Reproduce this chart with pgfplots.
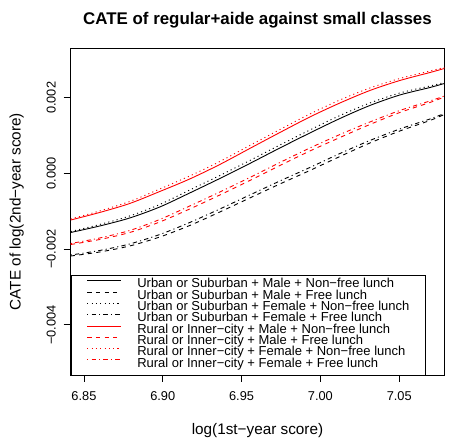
\documentclass[border=0pt]{standalone}
\usepackage{fontspec}
\setmainfont{Liberation Sans}
\usepackage{pgfplots}
\usepackage{pgfplotstable}
\pgfplotsset{compat=1.18}

% CATE of regular+aide vs. small classes, by subgroup.
% Columns: m/f = male/female, n/f = non-free/free lunch.
\pgfplotstableread{
x       mn         mf         fn         ff
6.8416  -0.001559  -0.002180  -0.001533  -0.002154
6.8600  -0.001387  -0.002074  -0.001347  -0.002034
6.8790  -0.001176  -0.001915  -0.001123  -0.001862
6.8981  -0.000885  -0.001678  -0.000819  -0.001612
6.9171  -0.000515  -0.001374  -0.000436  -0.001295
6.9362  -0.000132  -0.001017  -0.000053  -0.000938
6.9552   0.000264  -0.000647   0.000343  -0.000568
6.9743   0.000674  -0.000277   0.000753  -0.000198
6.9933   0.001070   0.000079   0.001149   0.000158
7.0124   0.001453   0.000449   0.001532   0.000528
7.0314   0.001797   0.000806   0.001863   0.000872
7.0504   0.002074   0.001123   0.002127   0.001176
7.0695   0.002272   0.001400   0.002312   0.001440
7.0786   0.002378   0.001559   0.002404   0.001585
}\urbantable

\pgfplotstableread{
x       mn         mf         fn         ff
6.8416  -0.001229  -0.001876  -0.001203  -0.001850
6.8600  -0.001030  -0.001744  -0.000990  -0.001704
6.8790  -0.000793  -0.001559  -0.000740  -0.001506
6.8981  -0.000476  -0.001281  -0.000410  -0.001215
6.9171  -0.000145  -0.000938  -0.000066  -0.000859
6.9362   0.000238  -0.000568   0.000317  -0.000489
6.9552   0.000661  -0.000185   0.000740  -0.000106
6.9743   0.001083   0.000211   0.001162   0.000290
6.9933   0.001493   0.000594   0.001572   0.000673
7.0124   0.001863   0.000951   0.001942   0.001030
7.0314   0.002193   0.001295   0.002259   0.001361
7.0504   0.002457   0.001612   0.002510   0.001665
7.0695   0.002668   0.001876   0.002708   0.001916
7.0786   0.002774   0.002021   0.002800   0.002047
}\ruraltable

\tikzset{
  urbmn/.style={draw=black, line width=0.9pt},
  urbmf/.style={draw=black, line width=0.9pt, dash pattern=on 4.3pt off 4.3pt},
  urbfn/.style={draw=black, line width=0.9pt, dash pattern=on 1.1pt off 3.2pt},
  urbff/.style={draw=black, line width=0.9pt, dash pattern=on 1.1pt off 3.2pt on 4.3pt off 3.2pt},
  rurmn/.style={draw=red, line width=0.9pt},
  rurmf/.style={draw=red, line width=0.9pt, dash pattern=on 4.3pt off 4.3pt},
  rurfn/.style={draw=red, line width=0.9pt, dash pattern=on 1.1pt off 3.2pt},
  rurff/.style={draw=red, line width=0.9pt, dash pattern=on 1.1pt off 3.2pt on 4.3pt off 3.2pt},
}

\begin{document}
\begin{tikzpicture}
\useasboundingbox (-70.7pt,-63pt) rectangle (390.3pt,375pt);
\begin{axis}[
  at={(0pt,0pt)}, anchor=south west,
  scale only axis, width=373.6pt, height=326.7pt,
  xmin=6.8416, xmax=7.0786, ymin=-0.005324, ymax=0.003308,
  xtick={6.85,6.90,6.95,7.00,7.05},
  xticklabels={6.85,6.90,6.95,7.00,7.05},
  ytick={-0.004,-0.002,0,0.002},
  yticklabels={−0.004,−0.002,0.000,0.002},
  scaled ticks=false,
  /pgf/number format/assume math mode=true,
  tick pos=left, tick align=outside,
  major tick length=7pt,
  tick style={black, line width=0.8pt},
  axis line style={line width=0.8pt},
  ticklabel style={font=\fontsize{12.8}{15}\selectfont},
  xticklabel style={anchor=center},
  xticklabel shift=14pt,
  yticklabel style={anchor=center, rotate=90},
  yticklabel shift=12.4pt,
  every axis x label/.style={at={(axis description cs:0.5,0)}, anchor=center, yshift=-56pt, font=\fontsize{15.3}{18}\selectfont},
  every axis y label/.style={at={(axis description cs:0,0.5)}, xshift=-54pt, rotate=90, anchor=center, font=\fontsize{15.3}{18}\selectfont},
  every axis title/.style={at={(axis description cs:0.5,1)}, anchor=center, yshift=28.3pt, font=\fontsize{16.9}{19}\selectfont\bfseries},
  title={CATE of regular+aide against small classes},
  xlabel={log(1st−year score)},
  ylabel={CATE of log(2nd−year score)},
  legend cell align=left,
  legend image code/.code={\draw[#1] (0pt,4.4pt) -- (34pt,4.4pt);},
  legend style={at={(0,0)}, anchor=south west, fill=white,
    inner xsep=16pt, inner ysep=4.8pt, row sep=0pt, column sep=15.5pt,
    font=\fontsize{13}{11.3}\selectfont,
    nodes={inner sep=0pt, text height=8.4pt, text depth=2.9pt},
    column 2/.style={nodes={text width=292pt}}},
]
\addplot[urbmn, smooth, forget plot] table[x=x, y=mn] {\urbantable};
\addplot[urbmf, smooth, forget plot] table[x=x, y=mf] {\urbantable};
\addplot[urbfn, smooth, forget plot] table[x=x, y=fn] {\urbantable};
\addplot[urbff, smooth, forget plot] table[x=x, y=ff] {\urbantable};
\addplot[rurmn, smooth, forget plot] table[x=x, y=mn] {\ruraltable};
\addplot[rurmf, smooth, forget plot] table[x=x, y=mf] {\ruraltable};
\addplot[rurfn, smooth, forget plot] table[x=x, y=fn] {\ruraltable};
\addplot[rurff, smooth, forget plot] table[x=x, y=ff] {\ruraltable};
\addlegendimage{urbmn}
\addlegendentry{Urban or Suburban + Male + Non−free lunch}
\addlegendimage{urbmf}
\addlegendentry{Urban or Suburban + Male + Free lunch}
\addlegendimage{urbfn}
\addlegendentry{Urban or Suburban + Female + Non−free lunch}
\addlegendimage{urbff}
\addlegendentry{Urban or Suburban + Female + Free lunch}
\addlegendimage{rurmn}
\addlegendentry{Rural or Inner−city + Male + Non−free lunch}
\addlegendimage{rurmf}
\addlegendentry{Rural or Inner−city + Male + Free lunch}
\addlegendimage{rurfn}
\addlegendentry{Rural or Inner−city + Female + Non−free lunch}
\addlegendimage{rurff}
\addlegendentry{Rural or Inner−city + Female + Free lunch}
\end{axis}
\end{tikzpicture}
\end{document}
